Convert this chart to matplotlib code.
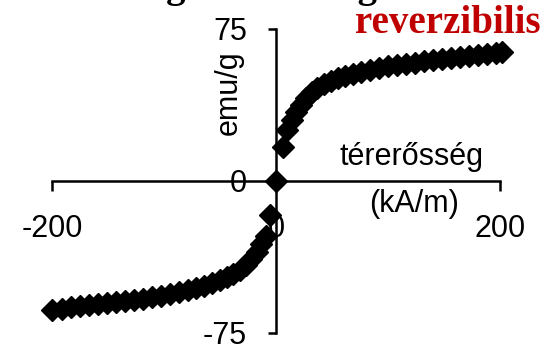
import matplotlib.pyplot as plt

plt.rcParams['axes.unicode_minus'] = False

# magnetization curve
h_pos = [0, 6, 10, 14, 18, 22, 27, 32, 37, 43, 49, 55, 62, 69, 76, 84, 92, 100,
         108, 116, 124, 132, 140, 148, 156, 164, 172, 180, 188, 196, 202]
m_pos = [0, 17, 25, 30, 34, 37.5, 41, 44, 46, 48, 49.5, 50.8, 52, 53, 54, 55, 55.8, 56.5,
         57.2, 57.8, 58.4, 59, 59.5, 60, 60.5, 61, 61.6, 62.1, 62.6, 63.1, 63.6]
h_neg = [-5, -9, -13, -17, -22, -27, -32, -38, -44, -50, -57, -64, -71, -79, -87, -95,
         -103, -111, -119, -127, -135, -143, -151, -159, -167, -175, -183, -191, -200]
m_neg = [-17, -27, -31, -35, -38.5, -41.5, -44, -46, -47.5, -49, -50.5, -51.8, -53, -54, -55, -55.8,
         -56.6, -57.3, -58, -58.6, -59.2, -59.8, -60.3, -60.8, -61.3, -61.8, -62.4, -63, -63.6]

x_ticks = [-200, 0, 200]
y_ticks = [-75, 0, 75]

W, H = 548, 348
fig = plt.figure(figsize=(W / 100, H / 100), dpi=100)
ax = fig.add_axes([52 / W, 15 / H, 448 / W, 304 / H])

ax.plot(h_pos + h_neg, m_pos + m_neg, linestyle='none', marker='D', markersize=11.5,
        color='black', clip_on=False, zorder=3)

ax.set_xlim(-200, 200)
ax.set_ylim(-75, 75)

ax.spines['left'].set_position(('data', 0))
ax.spines['bottom'].set_position(('data', 0))
ax.spines['top'].set_visible(False)
ax.spines['right'].set_visible(False)
for s in ['left', 'bottom']:
    ax.spines[s].set_linewidth(1.8)

ax.set_xticks(x_ticks)
ax.set_yticks(y_ticks)
ax.tick_params(axis='x', direction='out', length=7, width=1.8, pad=17, labelsize=22)
ax.tick_params(axis='y', direction='out', length=6, width=1.8, pad=15, labelsize=22)
for lab in ax.get_xticklabels() + ax.get_yticklabels():
    lab.set_family('Liberation Sans')

# axis titles
fig.text(229 / W, 1 - 93 / H, 'emu/g', rotation=90, ha='center', va='center',
         fontsize=22, family='Liberation Sans')
fig.text(412 / W, 1 - 157 / H, 'térerősség', ha='center', va='center',
         fontsize=22, family='Liberation Sans')
fig.text(414 / W, 1 - 204 / H, '(kA/m)', ha='center', va='center',
         fontsize=22, family='Liberation Sans')

# title (mostly cut off above the image) and the red label
fig.text(281 / W, 1 + 3.5 / H, 'Magnetizációs görbe', ha='center', va='baseline',
         fontsize=28, fontweight='bold', family='Liberation Serif')
fig.text(355 / W, 1 - 33 / H, 'reverzibilis', ha='left', va='baseline',
         fontsize=28, fontweight='bold', family='Liberation Serif', color='#C00000')

fig.savefig('out.png', dpi=100)
